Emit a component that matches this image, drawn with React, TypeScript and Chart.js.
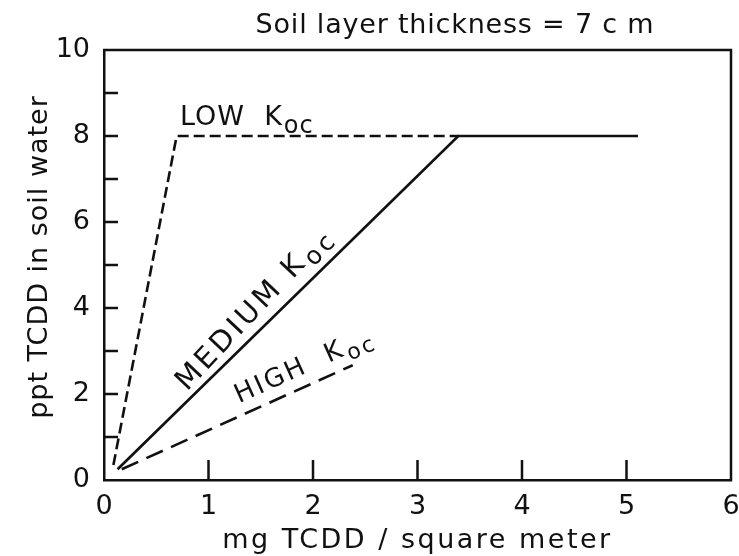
import { useEffect, useRef } from 'react';
import { Chart, registerables } from 'chart.js';

Chart.register(...registerables);

// ---- data ----
const lowX = [0.09, 0.695, 3.39];
const lowY = [0.35, 8.0, 8.0];
const mediumX = [0.13, 3.39, 5.11];
const mediumY = [0.25, 8.0, 8.0];
const highX = [0.17, 2.38];
const highY = [0.25, 2.67];

const xMin = 0;
const xMax = 6;
const yMin = 0;
const yMax = 10;

const chartTitle = 'Soil layer thickness = 7 c m';
const xTitle = 'mg TCDD / square meter';
const yTitle = 'ppt TCDD in soil water';
const seriesNames = ['LOW', 'MEDIUM', 'HIGH'];
const seriesSub = 'oc';

const FONT = '"DejaVu Sans", "Liberation Sans", sans-serif';
const INK = '#111111';

function toPoints(xs: number[], ys: number[]) {
  return xs.map((x, i) => ({ x, y: ys[i] }));
}

function drawKLabel(
  ctx: CanvasRenderingContext2D,
  px: number,
  py: number,
  angle: number,
  main: string,
  size: number,
  spacing: number,
  subSize: number,
  subDrop: number
) {
  ctx.save();
  ctx.translate(px, py);
  ctx.rotate(angle);
  (ctx as any).letterSpacing = spacing + 'px';
  ctx.font = `${size}px ${FONT}`;
  ctx.textAlign = 'left';
  ctx.textBaseline = 'alphabetic';
  ctx.fillStyle = INK;
  ctx.fillText(main, 0, 0);
  const w = ctx.measureText(main).width;
  ctx.font = `${subSize}px ${FONT}`;
  ctx.fillText(seriesSub, w + 1, subDrop);
  ctx.restore();
}

function drawPlainText(
  ctx: CanvasRenderingContext2D,
  text: string,
  px: number,
  py: number,
  size: number,
  spacing: number,
  rotation: number
) {
  ctx.save();
  ctx.translate(px, py);
  ctx.rotate(rotation);
  (ctx as any).letterSpacing = spacing + 'px';
  ctx.font = `${size}px ${FONT}`;
  ctx.textAlign = 'center';
  ctx.textBaseline = 'alphabetic';
  ctx.fillStyle = INK;
  ctx.fillText(text, 0, 0);
  ctx.restore();
}

const decorPlugin = {
  id: 'decor',
  afterDraw(chart: any) {
    const { ctx, chartArea: a, scales } = chart;
    const xs = scales.x;
    const ys = scales.y;
    ctx.save();
    ctx.strokeStyle = INK;
    ctx.lineWidth = 2.5;
    ctx.lineCap = 'butt';
    // top and right frame
    ctx.beginPath();
    ctx.moveTo(a.left - 1, a.top);
    ctx.lineTo(a.right, a.top);
    ctx.lineTo(a.right, a.bottom + 1);
    ctx.stroke();
    // inward tick marks
    xs.ticks.forEach((t: any, i: number) => {
      if (t.value <= xs.min || t.value >= xs.max) return;
      const p = xs.getPixelForTick(i);
      ctx.beginPath();
      ctx.moveTo(p, a.bottom);
      ctx.lineTo(p, a.bottom - 20);
      ctx.stroke();
    });
    ys.ticks.forEach((t: any, i: number) => {
      if (t.value <= ys.min || t.value >= ys.max) return;
      const p = ys.getPixelForTick(i);
      ctx.beginPath();
      ctx.moveTo(a.left, p);
      ctx.lineTo(a.left + 14, p);
      ctx.stroke();
    });
    ctx.restore();

    // titles
    drawPlainText(ctx, chartTitle, 455, 33, 27, 0.8, 0);
    drawPlainText(ctx, xTitle, (a.left + a.right) / 2, 548, 27, 2.5, 0);
    drawPlainText(ctx, yTitle, 47, 257, 27, 1, -Math.PI / 2);

    // series labels, placed along their lines
    const along = (xa: number[], ya: number[], t: number, gap: number) => {
      const x1 = xs.getPixelForValue(xa[0]);
      const y1 = ys.getPixelForValue(ya[0]);
      const x2 = xs.getPixelForValue(xa[1]);
      const y2 = ys.getPixelForValue(ya[1]);
      const ang = Math.atan2(y2 - y1, x2 - x1);
      const slope = (ya[1] - ya[0]) / (xa[1] - xa[0]);
      const px = xs.getPixelForValue(t);
      const py = ys.getPixelForValue(ya[0] + (t - xa[0]) * slope);
      return { x: px + Math.sin(ang) * gap, y: py - Math.cos(ang) * gap, ang };
    };
    drawKLabel(ctx, xs.getPixelForValue(0.727), ys.getPixelForValue(8.26), 0,
      seriesNames[0] + '  K', 27, 1, 24, 8);
    const m = along(mediumX, mediumY, 0.84, 7);
    drawKLabel(ctx, m.x, m.y, m.ang - 0.04, seriesNames[1] + ' K', 29, 3.5, 25, 7);
    const h = along(highX, highY, 1.34, 12);
    drawKLabel(ctx, h.x, h.y, h.ang, seriesNames[2] + '  K', 26, 2.5, 22, 7);
  },
};

export default function App() {
  const ref = useRef<HTMLCanvasElement | null>(null);

  useEffect(() => {
    if (!ref.current) return;
    const chart = new Chart(ref.current, {
      type: 'scatter',
      data: {
        datasets: [
          {
            label: seriesNames[0],
            data: toPoints(lowX, lowY),
            showLine: true,
            borderColor: INK,
            borderWidth: 2.6,
            borderDash: [11, 5],
            pointRadius: 0,
            fill: false,
            tension: 0,
          },
          {
            label: seriesNames[1],
            data: toPoints(mediumX, mediumY),
            showLine: true,
            borderColor: INK,
            borderWidth: 2.7,
            pointRadius: 0,
            fill: false,
            tension: 0,
          },
          {
            label: seriesNames[2],
            data: toPoints(highX, highY),
            showLine: true,
            borderColor: INK,
            borderWidth: 2.6,
            borderDash: [18, 9],
            pointRadius: 0,
            fill: false,
            tension: 0,
          },
        ],
      },
      options: {
        responsive: false,
        animation: false,
        devicePixelRatio: 1,
        layout: { padding: { top: 50, right: 0, left: 0, bottom: 0 } },
        plugins: {
          legend: { display: false },
          tooltip: { enabled: false },
          title: { display: false },
        },
        scales: {
          x: {
            type: 'linear',
            min: xMin,
            max: xMax,
            ticks: {
              stepSize: 1,
              padding: 11,
              color: INK,
              font: { family: FONT, size: 27 },
              maxRotation: 0,
              autoSkip: false,
            },
            grid: { display: true, drawOnChartArea: false, drawTicks: false },
            border: { display: true, color: INK, width: 2.5 },
            afterFit: (s: any) => {
              s.height = 76;
              s.paddingLeft = 0;
              s.paddingRight = 8;
            },
          },
          y: {
            type: 'linear',
            min: yMin,
            max: yMax,
            ticks: {
              stepSize: 1,
              padding: 14,
              color: INK,
              font: { family: FONT, size: 27 },
              autoSkip: false,
              callback: (v: any) => (Number(v) % 2 === 0 ? String(v) : ''),
            },
            grid: { display: true, drawOnChartArea: false, drawTicks: false },
            border: { display: true, color: INK, width: 2.5 },
            afterFit: (s: any) => {
              s.width = 104;
              s.paddingTop = 0;
              s.paddingBottom = 0;
            },
          },
        },
      },
      plugins: [decorPlugin],
    });
    return () => chart.destroy();
  }, []);

  return (
    <div style={{ position: 'fixed', left: 0, top: 0, width: 739, height: 556, background: '#fff' }}>
      <canvas ref={ref} width={739} height={556} style={{ width: 739, height: 556, display: 'block' }} />
    </div>
  );
}
